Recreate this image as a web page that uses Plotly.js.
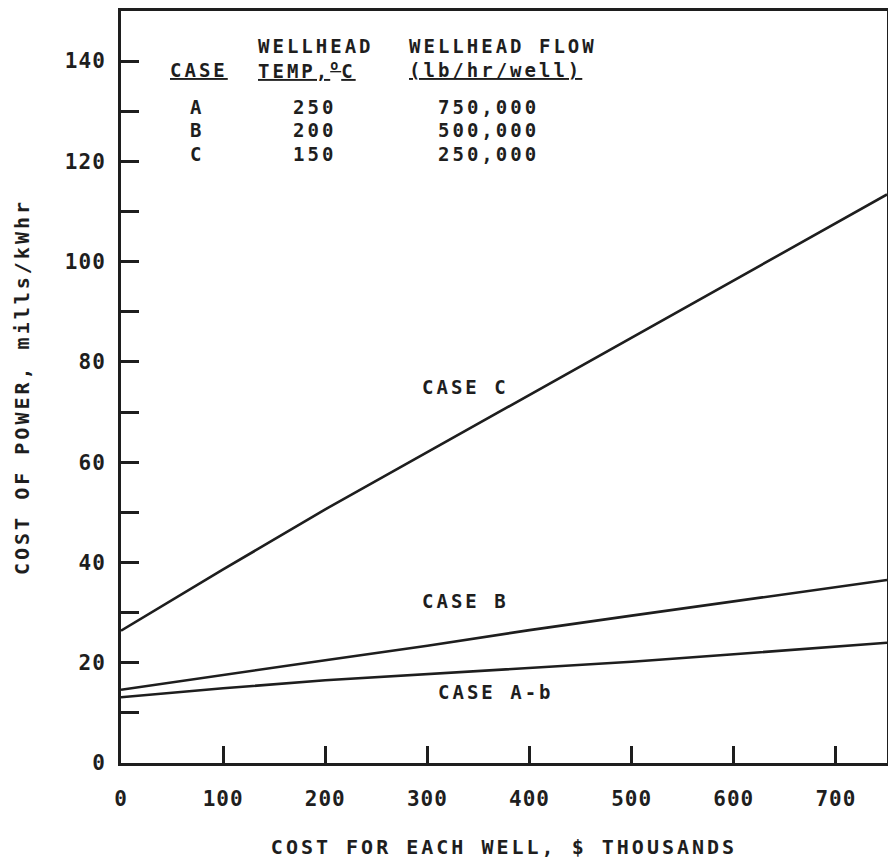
<!DOCTYPE html>
<html>
<head>
<meta charset="utf-8">
<script src="https://cdn.plot.ly/plotly-3.0.1.min.js"></script>
<style>
  html, body { margin: 0; padding: 0; background: #fff; }
  #chart { width: 888px; height: 859px; }
  .annotation-text, .xtitle, .ytitle { letter-spacing: 3px; }
  .xtick text, .ytick text { letter-spacing: 1px; }
</style>
</head>
<body>
<div id="chart"></div>
<script>
// Well cost, $ thousands
const wellCost = [0, 100, 200, 300, 400, 500, 600, 700, 750];
// Cost of power, mills/kWhr
const caseC  = [26.4, 38.6, 50.6, 62.0, 73.5, 84.9, 96.3, 107.7, 113.4];
const caseB  = [14.6, 17.6, 20.5, 23.4, 26.5, 29.4, 32.3, 35.1, 36.5];
const caseAb = [13.1, 14.9, 16.5, 17.7, 19.0, 20.2, 21.7, 23.2, 24.0];

const curveLabels = ["CASE C", "CASE B", "CASE A-b"];

// Table of cases
const tableCases = ["A", "B", "C"];
const tableTemps = ["250", "200", "150"];
const tableFlows = ["750,000", "500,000", "250,000"];

// Axis ticks
const xTickVals = [0, 100, 200, 300, 400, 500, 600, 700];
const yLabelVals = [0, 20, 40, 60, 80, 100, 120, 140];
const yMinorVals = [10, 30, 50, 70, 90, 110, 130];

const FONT = "DejaVu Sans Mono";
const INK = "#1e1e1e";

const lineStyle = { color: INK, width: 2.6 };
const traces = [
  { x: wellCost, y: caseC, name: curveLabels[0], mode: "lines", line: lineStyle },
  { x: wellCost, y: caseB, name: curveLabels[1], mode: "lines", line: lineStyle },
  { x: wellCost, y: caseAb, name: curveLabels[2], mode: "lines", line: lineStyle }
];

const tf = { family: FONT, size: 19, color: INK, weight: "bold" };
const ann = [];
function add(text, x, y, xanchor) {
  ann.push({ text: text, x: x, y: y, xref: "x", yref: "y", xanchor: xanchor, yanchor: "middle",
             showarrow: false, font: Object.assign({}, tf) });
}
// header
add("<u>CASE</u>", 76.5, 138.3, "center");
add("WELLHEAD", 132, 143.1, "left");
add("<u>TEMP,<sup>o</sup>C</u>", 132, 138.3, "left");
add("WELLHEAD FLOW", 280, 143.1, "left");
add("<u>(lb/hr/well)</u>", 280, 138.3, "left");
const rowY = [130.9, 126.3, 121.5];
for (let i = 0; i < tableCases.length; i++) {
  add(tableCases[i], 74.5, rowY[i], "center");
  add(tableTemps[i], 189, rowY[i], "center");
  add(tableFlows[i], 360, rowY[i], "center");
}
// curve labels
add(curveLabels[0], 337, 75.1, "center");
add(curveLabels[1], 337, 32.3, "center");
add(curveLabels[2], 367, 14.2, "center");

const layout = {
  width: 888, height: 859,
  margin: { l: 121, r: 1, t: 11, b: 96 },
  paper_bgcolor: "#ffffff",
  plot_bgcolor: "#ffffff",
  showlegend: false,
  font: { family: FONT, color: INK },
  xaxis: {
    range: [0, 750],
    showgrid: false, zeroline: false,
    showline: true, mirror: true, linecolor: INK, linewidth: 3,
    ticks: "inside", ticklen: 17, tickwidth: 3, tickcolor: INK,
    tickmode: "array", tickvals: xTickVals, ticktext: xTickVals.map(String),
    ticklabelstandoff: 15,
    tickfont: { family: FONT, size: 21, color: INK, weight: "bold" },
    title: { text: "COST FOR EACH WELL, $ THOUSANDS", standoff: 31,
             font: { family: FONT, size: 20, color: INK, weight: "bold" } }
  },
  yaxis: {
    range: [0, 150],
    showgrid: false, zeroline: false,
    showline: true, mirror: true, linecolor: INK, linewidth: 3,
    ticks: "inside", ticklen: 18, tickwidth: 3, tickcolor: INK,
    tickmode: "array", tickvals: yLabelVals, ticktext: yLabelVals.map(String),
    minor: { ticks: "inside", tickmode: "array", tickvals: yMinorVals,
             ticklen: 18, tickwidth: 3, tickcolor: INK, showgrid: false },
    ticklabelstandoff: 8,
    tickfont: { family: FONT, size: 21, color: INK, weight: "bold" },
    title: { text: "COST OF POWER, mills/kWhr", standoff: 30,
             font: { family: FONT, size: 20, color: INK, weight: "bold" } }
  },
  annotations: ann
};

Plotly.newPlot("chart", traces, layout, { displayModeBar: false, staticPlot: true });
</script>
</body>
</html>
